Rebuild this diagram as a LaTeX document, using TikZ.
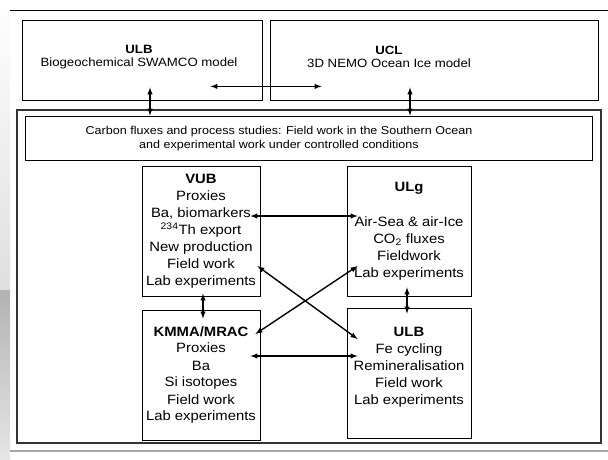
\documentclass[tikz,border=0pt]{standalone}
\usepackage{fontspec}
\setmainfont{Liberation Sans}[FakeStretch=1.1]
\usetikzlibrary{positioning}
\tikzset{
	box/.style={draw,line width=0.8pt,inner sep=0pt},
	txt/.style={align=center,font=\fontsize{12}{13.5}\selectfont},
	boxtxt/.style={align=center,font=\fontsize{13.5}{17}\selectfont},
	link/.style={<->,>=latex,line width=1.4pt},
}
\begin{document}
\begin{tikzpicture}[x=1pt,y=-1pt]
	\useasboundingbox (0,0) rectangle (608,459);
	% bande grise a gauche
	\shade[top color=white,bottom color=gray!25] (0,0) rectangle (10,290);
	\shade[top color=gray!60,bottom color=gray!20] (0,290) rectangle (10,459);
	\draw[line width=0.8pt] (10,10) -- (608,10);
	\draw[gray!70,line width=1.5pt] (10,451) -- (608,451);
	% les modeles
	\node[box,minimum width=240,minimum height=80] (ulbtop) at (142,60) {};
	\node[txt] (ulbtoptxt) at (139,57) {\textbf{ULB}\\Biogeochemical SWAMCO model};
	\node[box,minimum width=328,minimum height=80] (ucl) at (434,60) {};
	\node[txt] (ucltxt) at (389,57) {\textbf{UCL}\\3D NEMO Ocean Ice model};
	% le cadre des etudes
	\node[box,draw=black!80,line width=1.2pt,minimum width=584,minimum height=333] (frame) at (309,276.5) {};
	\node[box,minimum width=567,minimum height=44] (carbon) at (308.5,138) {};
	\node[txt,font=\fontsize{11.4}{14}\selectfont] (carbontxt) at (279,139) {Carbon fluxes and process studies: Field work in the Southern Ocean\\and experimental work under controlled conditions};
	\node[box,boxtxt,minimum width=118,minimum height=130] (vub) at (201,231)
		{\textbf{VUB}\\Proxies\\Ba, biomarkers\\\textsuperscript{234}Th export\\New production\\Field work\\Lab experiments};
	\node[box,boxtxt,minimum width=124,minimum height=130] (ulg) at (409,231)
		{\textbf{ULg}\\[18pt]Air-Sea \& air-Ice\\CO\textsubscript{2} fluxes\\Fieldwork\\Lab experiments};
	\node[box,boxtxt,minimum width=118,minimum height=130] (kmma) at (201,375)
		{\textbf{KMMA/MRAC}\\Proxies\\Ba\\Si isotopes\\Field work\\Lab experiments};
	\node[box,minimum width=124,minimum height=130] (ulb) at (409,373) {};
	\node[boxtxt,below=16pt of ulb.north] (ulbtxt)
		{\textbf{ULB}\\Fe cycling\\Remineralisation\\Field work\\Lab experiments};
	% les liens
	\draw[link] ([xshift=8pt,yshift=13pt]ulbtop.south) -- ([xshift=8pt]ulbtop.south |- carbon.north);
	\draw[link] ([xshift=-24pt,yshift=13pt]ucl.south) -- ([xshift=-24pt]ucl.south |- carbon.north);
	\draw[link] ([xshift=-52pt,yshift=14pt]ulbtop.south east) -- ([xshift=52pt,yshift=14pt]ucl.south west);
	\draw[link] ([xshift=-10pt,yshift=15pt]vub.east) -- ([xshift=11pt,yshift=15pt]ulg.west);
	\draw[link] ([xshift=2pt,yshift=3pt]vub.south) -- ([xshift=2pt,yshift=-9pt]kmma.north);
	\draw[link] ([xshift=-2pt,yshift=9pt]ulg.south) -- ([xshift=-2pt,yshift=-6pt]ulb.north);
	\draw[link] ([xshift=-3pt,yshift=-35pt]vub.east) -- ([xshift=11pt,yshift=34pt]ulb.west);
	\draw[link] ([xshift=-5pt,yshift=41pt]kmma.east) -- ([xshift=11pt,yshift=-35pt]ulg.west);
	\draw[link] ([xshift=-10pt,yshift=19pt]kmma.east) -- ([xshift=11pt,yshift=17pt]ulb.west);
\end{tikzpicture}
\end{document}
